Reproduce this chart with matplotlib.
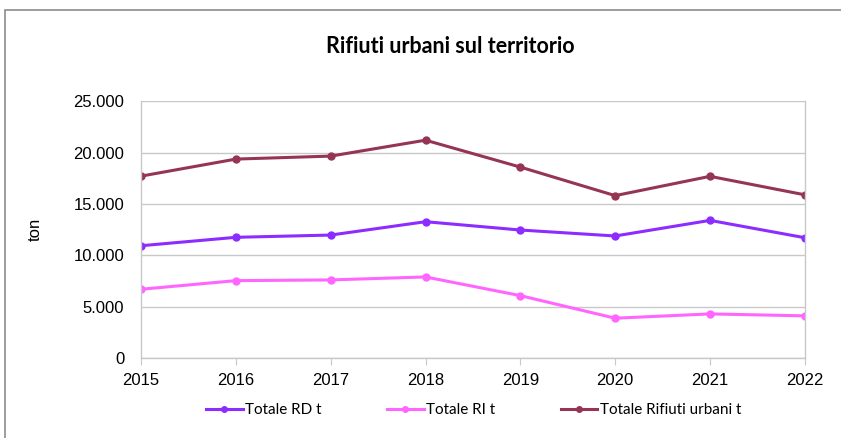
import matplotlib

matplotlib.use("Agg")

import matplotlib.pyplot as plt
import matplotlib.ticker as mt
from matplotlib.patches import Rectangle

anni = [2015, 2016, 2017, 2018, 2019, 2020, 2021, 2022]
totale_rd = [10920, 11740, 11960, 13260, 12450, 11870, 13390, 11700]
totale_ri = [6680, 7520, 7590, 7880, 6060, 3860, 4280, 4090]
totale_ru = [17700, 19360, 19650, 21200, 18580, 15800, 17680, 15880]

GRID = '#c8c8c8'

fig = plt.figure(figsize=(8.41, 4.38), dpi=100)
ax = fig.add_axes([0.1677, 0.183, 0.7893, 0.586])

# cornice del grafico
fig.patches.append(Rectangle((0.006, -0.1), 1.1, 1.077, transform=fig.transFigure,
                             fill=False, edgecolor='#8c8c8c', linewidth=1.2))

ax.plot(anni, totale_rd, color='#8c2cff', lw=2.2, marker='o', ms=5, label='Totale RD t')
ax.plot(anni, totale_ri, color='#ff66ff', lw=2.2, marker='o', ms=5, label='Totale RI t')
ax.plot(anni, totale_ru, color='#953553', lw=2.2, marker='o', ms=5, label='Totale Rifiuti urbani t')

ax.set_xlim(2015, 2022)
ax.set_ylim(0, 25000)
ax.set_xticks(anni)
ax.set_yticks(range(0, 25001, 5000))
ax.yaxis.set_major_formatter(mt.FuncFormatter(lambda v, p: f"{int(v):,}".replace(',', '.')))
ax.grid(axis='y', color=GRID, lw=1)
ax.set_axisbelow(True)
ax.spines['top'].set_visible(False)
for s in ['left', 'right', 'bottom']:
    ax.spines[s].set_color(GRID)
    ax.spines[s].set_linewidth(1)
ax.tick_params(axis='y', length=0, pad=12, labelsize=12)
ax.tick_params(axis='x', length=5, color=GRID, pad=6, labelsize=12)
for lab in ax.get_xticklabels() + ax.get_yticklabels():
    lab.set_family('Liberation Sans')

ax.set_ylabel('ton', fontsize=12, family='Liberation Sans', labelpad=22)

fig.text(0.536, 0.893, 'Rifiuti urbani sul territorio', ha='center', va='center',
         fontsize=15.5, fontweight='bold', family='Lato')

fig.legend(loc='center', bbox_to_anchor=(0.563, 0.064), ncol=3, frameon=False,
           prop={'family': 'Lato', 'size': 11}, handlelength=2.4, handletextpad=0.15,
           columnspacing=4.3, markerscale=0.8)

plt.savefig('out.png', dpi=100)
